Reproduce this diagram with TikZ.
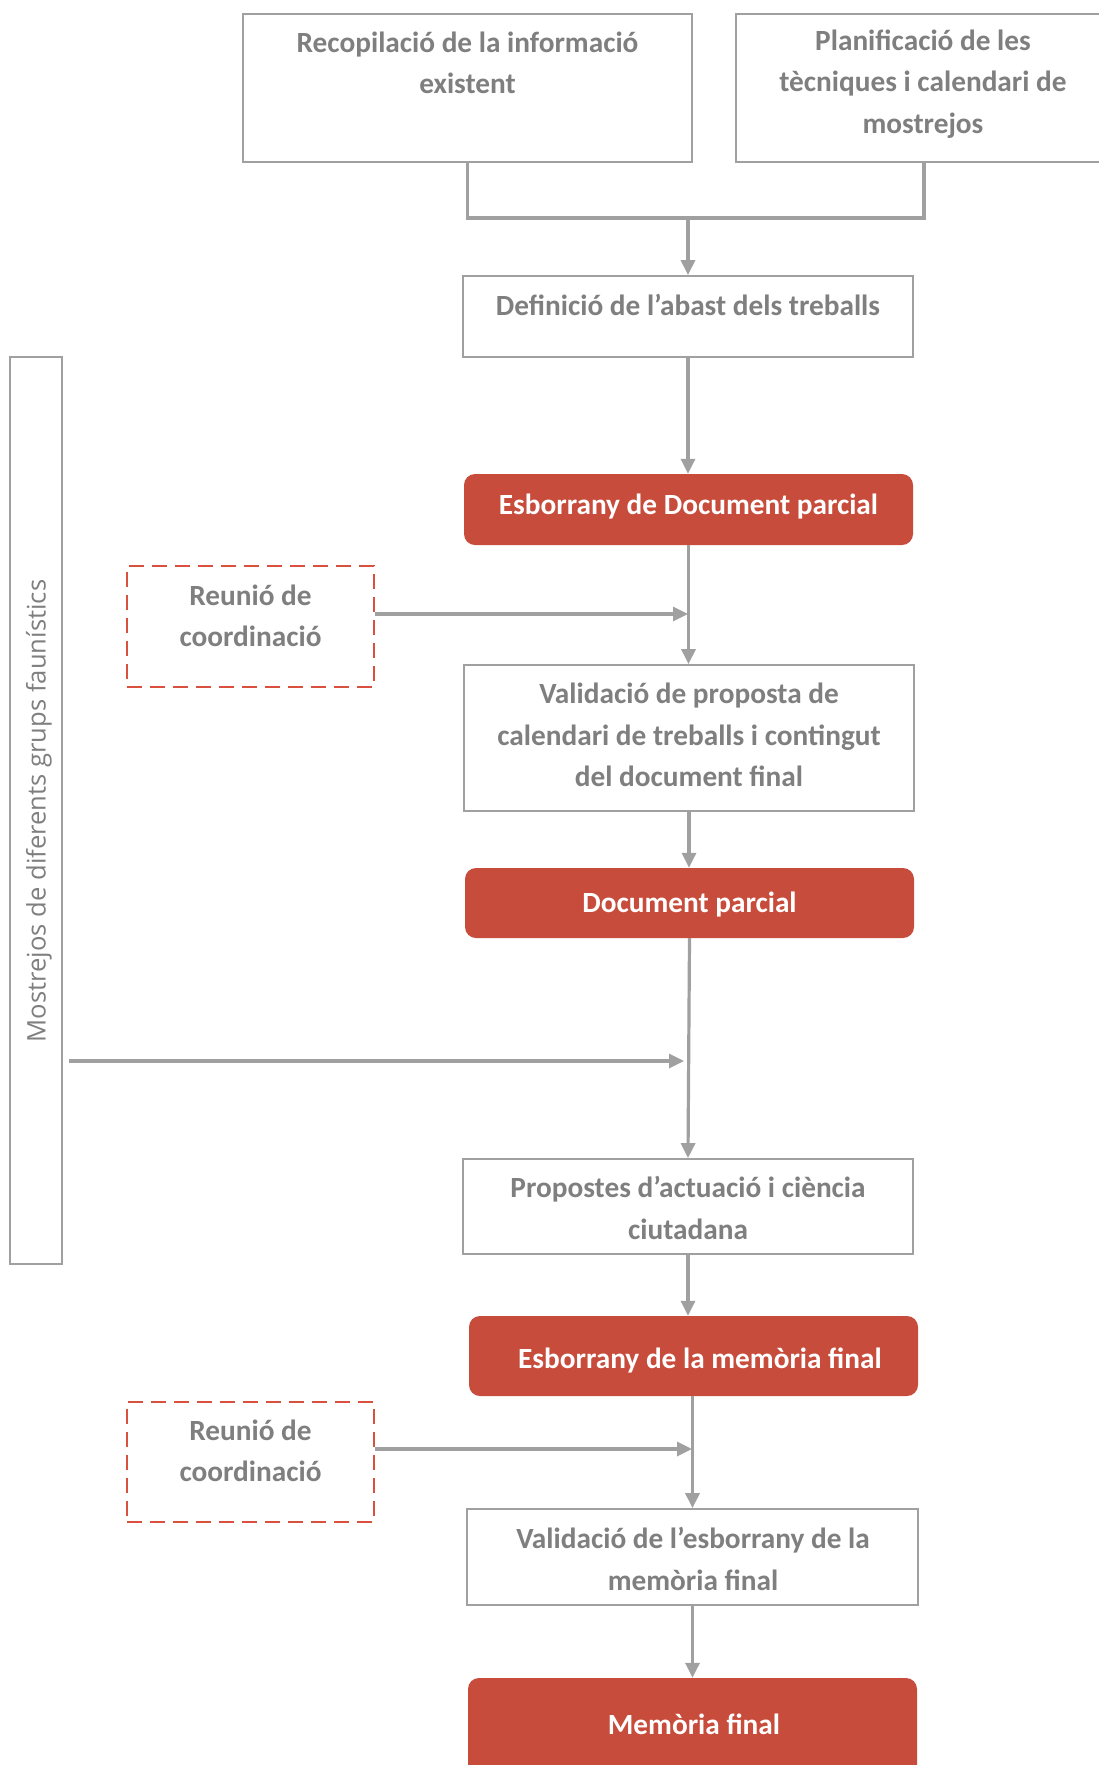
\documentclass[tikz,border=0pt]{standalone}
\usepackage{fontspec}
\setmainfont{Carlito}
\newfontfamily\osans{Open Sans}
\usetikzlibrary{arrows.meta}
\definecolor{boxred}{HTML}{C84C3B}
\definecolor{dashred}{HTML}{D9503F}
\definecolor{txtgray}{HTML}{7F7F7F}
\definecolor{linegray}{HTML}{A0A0A0}
\tikzset{
  plainbox/.style={draw=linegray, line width=1.8pt, rectangle, inner sep=0pt},
  redbox/.style={fill=boxred, draw=none, rectangle, rounded corners=11pt, inner sep=0pt},
  dashbox/.style={draw=dashred, line width=1.8pt, dash pattern=on 15pt off 8pt, rectangle, inner sep=0pt},
  sidebox/.style={draw=linegray, line width=1.8pt, rectangle, inner sep=0pt},
  graytxt/.style={text=txtgray, font=\fontsize{29.3}{41.6}\selectfont\bfseries, align=center, inner sep=0pt},
  whitetxt/.style={text=white, font=\fontsize{29.3}{41.6}\selectfont\bfseries, align=center, inner sep=0pt},
  conn/.style={draw=linegray, line width=3.2pt},
  arr/.style={conn, -{Triangle[length=15pt,width=14pt]}},
}
\begin{document}
\begin{tikzpicture}[x=1pt,y=-1pt]
\useasboundingbox (0,0) rectangle (1099,1765);
\clip (0,0) rectangle (1099,1765);
\fill[white] (0,0) rectangle (1099,1765);

% top boxes
\node[plainbox, minimum width=449pt, minimum height=148pt] (b1) at (467.5,88) {};
\node[graytxt] (t1) at (467.5,63) {Recopilació de la informació\\existent};
\node[plainbox, minimum width=376pt, minimum height=148pt] (b2) at (924,88) {};
\node[graytxt] (t2) at (923,84) {Planificació de les\\tècniques i calendari de\\mostrejos};

\coordinate (merge) at (688,218);

% Definició
\node[plainbox, minimum width=450pt, minimum height=81pt] (def) at (688,316.5) {};
\node[graytxt] (tdef) at (688,305) {Definició de l’abast dels treballs};

% Esborrany doc parcial
\node[redbox, minimum width=449pt, minimum height=71pt] (esb) at (688.5,509.5) {};
\node[whitetxt] (tesb) at (688.5,507) {Esborrany de Document parcial};

% Reunió 1
\node[dashbox, minimum width=247pt, minimum height=121pt] (re1) at (250.5,626.5) {};
\node[graytxt] (tre1) at (250.5,616) {Reunió de\\coordinació};

% Validació proposta
\node[plainbox, minimum width=450pt, minimum height=146pt] (val) at (689,738) {};
\node[graytxt] (tval) at (689,735) {Validació de proposta de\\calendari de treballs i contingut\\del document final};

% Document parcial
\node[redbox, minimum width=449pt, minimum height=70pt] (doc) at (689.5,903) {};
\node[whitetxt] (tdoc) at (689.5,905) {Document parcial};

% Side box
\node[sidebox, minimum width=52pt, minimum height=907pt] (side) at (36,810.5) {};
\node[text=txtgray, font=\osans\fontsize{25.6}{30}\selectfont, rotate=90, inner sep=0pt] (tside) at (39,811) {Mostrejos de diferents grups faunístics};
\coordinate (sidestart) at (69,1061);

% Propostes
\node[plainbox, minimum width=450pt, minimum height=95pt] (prop) at (688,1206.5) {};
\node[graytxt] (tprop) at (688,1208) {Propostes d’actuació i ciència\\ciutadana};

% Esborrany memòria
\node[redbox, minimum width=449pt, minimum height=80pt] (mem) at (693.5,1356) {};
\node[whitetxt] (tmem) at (700,1360) {Esborrany de la memòria final};

% Reunió 2
\node[dashbox, minimum width=247pt, minimum height=120pt] (re2) at (250.5,1462) {};
\node[graytxt] (tre2) at (250.5,1451) {Reunió de\\coordinació};

% Validació esborrany
\node[plainbox, minimum width=451pt, minimum height=96pt] (vale) at (692.5,1557) {};
\node[graytxt] (tvale) at (693,1559) {Validació de l’esborrany de la\\memòria final};

% Memòria final
\node[redbox, minimum width=449pt, minimum height=110pt] (fin) at (692.5,1733) {};
\node[whitetxt] (tfin) at (694,1724) {Memòria final};

% connectors
\draw[conn] (b1.south) -- (b1.south |- merge) -- (b2.south |- merge) -- (b2.south);
\draw[arr] (merge) -- (def.north);
\draw[arr] (def.south) -- (def.south |- esb.north);
\draw[arr] (esb.south) -- (esb.south |- val.north);
\draw[arr] (re1.east |- 0,614) -- (688,614);
\draw[arr] (val.south) -- (val.south |- doc.north);
\draw[arr] (doc.south) -- (prop.north);
\draw[arr] (sidestart) -- (684,1061);
\draw[arr] (prop.south) -- (prop.south |- mem.north);
\draw[arr] (mem.south -| vale.north) -- (vale.north);
\draw[arr] (re2.east |- 0,1449) -- (692,1449);
\draw[arr] (vale.south) -- (vale.south |- fin.north);
\end{tikzpicture}
\end{document}
